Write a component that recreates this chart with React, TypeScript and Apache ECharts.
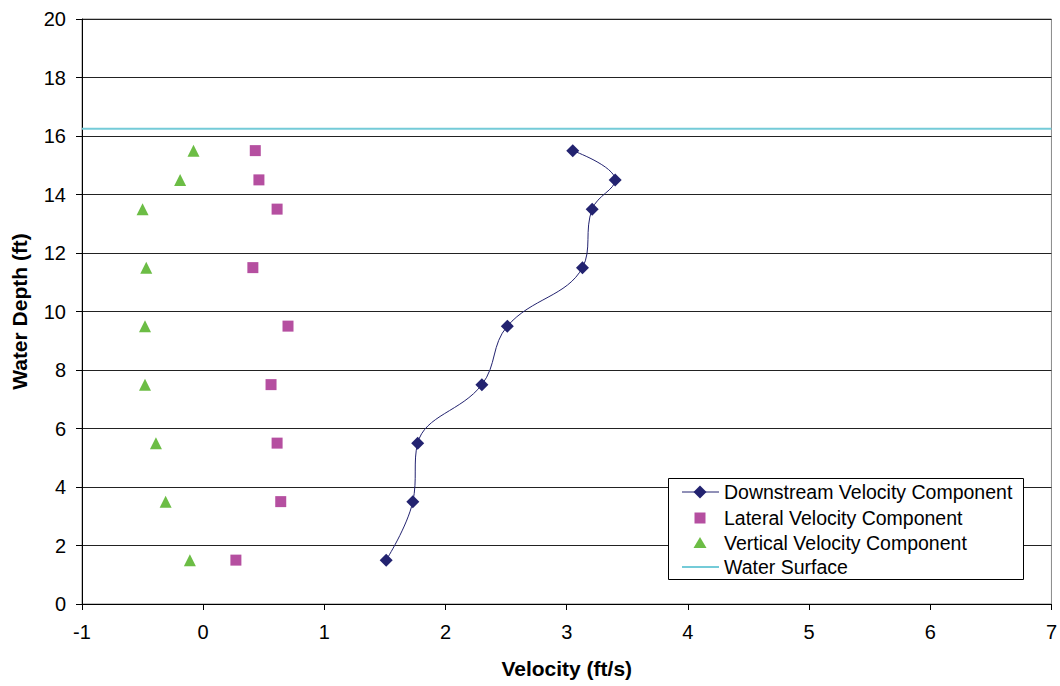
import React, { useEffect, useRef } from "react";
import * as echarts from "echarts";

const depths = [15.5, 14.5, 13.5, 11.5, 9.5, 7.5, 5.5, 3.5, 1.5];
const downstream = [3.05, 3.4, 3.21, 3.13, 2.51, 2.3, 1.77, 1.73, 1.51];
const lateral = [0.43, 0.46, 0.61, 0.41, 0.7, 0.56, 0.61, 0.64, 0.27];
const vertical = [-0.08, -0.19, -0.5, -0.47, -0.48, -0.48, -0.39, -0.31, -0.11];
const waterSurfaceDepth = 16.25;
const xRange = [-1, 7];
const yRange = [0, 20];
const seriesNames = [
  "Downstream Velocity Component",
  "Lateral Velocity Component",
  "Vertical Velocity Component",
  "Water Surface",
];

const FONT = "Liberation Sans, Arial, sans-serif";
const C_DOWN = "#232370";
const C_LAT = "#B54FA0";
const C_VERT = "#6CBD45";
const C_WS = "#74CBD8";

export default function App() {
  const ref = useRef<HTMLDivElement>(null);
  useEffect(() => {
    if (!ref.current) return;
    const chart = echarts.init(ref.current, undefined, { renderer: "svg" });
    const pts = (xs: number[]) => xs.map((x, i) => [x, depths[i]]);

    const LX = 668, LY = 478, LW = 355, LH = 101;
    const rowY = [492, 518, 543, 567];
    const mx = 700;
    const tx = 724;
    const legendGraphic: any[] = [
      { type: "rect", shape: { x: LX + 0.5, y: LY + 0.5, width: LW, height: LH }, style: { fill: "#fff", stroke: "#000", lineWidth: 1 }, z: 100 },
      { type: "line", shape: { x1: 682, y1: rowY[0], x2: 719, y2: rowY[0] }, style: { stroke: C_DOWN, lineWidth: 1 }, z: 101 },
      { type: "polygon", shape: { points: [[mx, rowY[0] - 6.5], [mx + 6.5, rowY[0]], [mx, rowY[0] + 6.5], [mx - 6.5, rowY[0]]] }, style: { fill: C_DOWN }, z: 101 },
      { type: "rect", shape: { x: mx - 5.5, y: rowY[1] - 5.5, width: 11, height: 11 }, style: { fill: C_LAT }, z: 101 },
      { type: "polygon", shape: { points: [[mx, rowY[2] - 6], [mx + 6.5, rowY[2] + 5], [mx - 6.5, rowY[2] + 5]] }, style: { fill: C_VERT }, z: 101 },
      { type: "line", shape: { x1: 682, y1: rowY[3], x2: 719, y2: rowY[3] }, style: { stroke: C_WS, lineWidth: 2 }, z: 101 },
    ];
    seriesNames.forEach((n, i) => {
      legendGraphic.push({
        type: "text",
        x: tx,
        y: rowY[i],
        style: { text: n, fontSize: 19.5, fontFamily: FONT, fill: "#000", verticalAlign: "middle" },
        z: 101,
      });
    });

    chart.setOption({
      animation: false,
      textStyle: { fontFamily: FONT },
      grid: { left: 82, right: 5, top: 19, bottom: 82, show: true, borderColor: "#888", borderWidth: 1, backgroundColor: "transparent" },
      xAxis: {
        type: "value",
        min: xRange[0],
        max: xRange[1],
        interval: 1,
        name: "Velocity (ft/s)",
        nameLocation: "middle",
        nameGap: 54,
        nameTextStyle: { fontSize: 21, fontWeight: "bold", color: "#000", fontFamily: FONT },
        axisLine: { show: true, onZero: false, lineStyle: { color: "#000", width: 1 } },
        axisTick: { show: true, length: 6, lineStyle: { color: "#000" } },
        axisLabel: { fontSize: 20, color: "#000", margin: 18, fontFamily: FONT },
        splitLine: { show: false },
      },
      yAxis: {
        type: "value",
        min: yRange[0],
        max: yRange[1],
        interval: 2,
        name: "Water Depth (ft)",
        nameLocation: "middle",
        nameGap: 52,
        nameTextStyle: { fontSize: 21, fontWeight: "bold", color: "#000", fontFamily: FONT },
        axisLine: { show: true, onZero: false, lineStyle: { color: "#000", width: 1 } },
        axisTick: { show: true, length: 6, lineStyle: { color: "#000" } },
        axisLabel: { fontSize: 20, color: "#000", margin: 16, fontFamily: FONT },
        splitLine: { show: true, lineStyle: { color: "#222", width: 1 } },
      },
      graphic: legendGraphic,
      series: [
        {
          name: seriesNames[3],
          type: "line",
          data: [
            [xRange[0], waterSurfaceDepth],
            [xRange[1], waterSurfaceDepth],
          ],
          symbol: "none",
          lineStyle: { color: C_WS, width: 2 },
          itemStyle: { color: C_WS },
          z: 1,
        },
        {
          name: seriesNames[0],
          type: "line",
          data: pts(downstream),
          smooth: 0.4,
          symbol: "diamond",
          symbolSize: 13,
          lineStyle: { color: C_DOWN, width: 1 },
          itemStyle: { color: C_DOWN },
          z: 3,
        },
        {
          name: seriesNames[1],
          type: "scatter",
          data: pts(lateral),
          symbol: "rect",
          symbolSize: 11,
          itemStyle: { color: C_LAT, opacity: 1 },
          z: 3,
        },
        {
          name: seriesNames[2],
          type: "scatter",
          data: pts(vertical),
          symbol: "triangle",
          symbolSize: 12,
          itemStyle: { color: C_VERT, opacity: 1 },
          z: 3,
        },
      ],
    });
    return () => chart.dispose();
  }, []);
  return <div ref={ref} style={{ width: 1060, height: 686, position: "absolute", left: 0, top: 0 }} />;
}
